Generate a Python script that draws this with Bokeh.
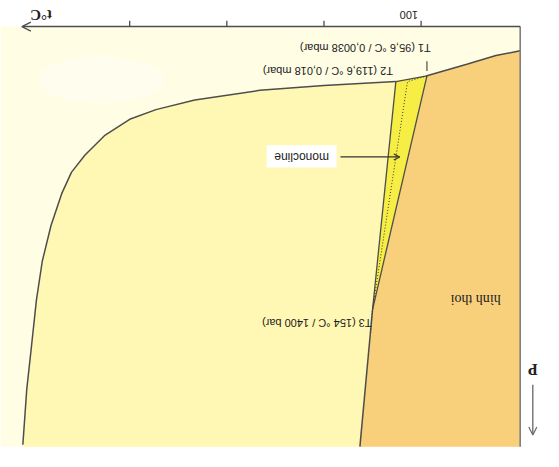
import math
from bokeh.plotting import figure
from bokeh.models import Range1d, Arrow, OpenHead
from bokeh.core.properties import value
from bokeh.embed import file_html
from bokeh.resources import INLINE

# Schematic sulfur phase diagram (drawn rotated by 180 degrees, as in the reference)
# x: temperature t (°C); y: schematic pressure units (larger = higher pressure)
T1 = (94, 51)     # T1 (95,6 °C / 0,0038 mbar)
T2 = (126, 57)    # T2 (119,6 °C / 0,018 mbar)
T3 = (150, 293)   # T3 (154 °C / 1400 bar)
M = (114, 57)     # metastable triple point

# rhombic / liquid boundary below T3
rl_t = [150, 163]
rl_p = [293, 435]
# rhombic / vapour curve (from T1)
rv_t = [94, 53, 23, -2]
rv_p = [51, 39, 30, 25]
# liquid / vapour curve (from T2)
lv_t = [126, 200, 266, 333, 373, 400, 426, 446, 460, 470, 481, 490, 496, 501, 506, 510]
lv_p = [57, 61, 66, 76, 86, 96, 113, 133, 151, 173, 206, 243, 283, 330, 376, 433]

# frame of the diagram
t_min, t_axis_end, t_left = -2, 511, 533
p_min, p_max = 0, 435

# axis ticks
tick_values = [100, 200, 300, 400]
tick_labels = {100: "100"}

labels_text = ["T1 (95,6 °C / 0,0038 mbar)", "T2 (119,6 °C / 0,018 mbar)", "T3 (154 °C / 1400 bar)"]
labels_t = [90, 129, 151]
labels_p = [22, 46, 307]

LINE = "#4d4d4d"

p = figure(width=543, height=451, x_range=Range1d(533, -26), y_range=Range1d(440, -27),
           toolbar_location=None, output_backend="svg", min_border=0,
           x_axis_location=None, y_axis_location=None,
           outline_line_color=None, background_fill_color="white", border_fill_color="white")
p.grid.visible = False

# vapour background
p.quad(left=[-2], right=[t_left], bottom=[p_max], top=[p_min], fill_color="#FFFDE4", line_color=None)
p.ellipse(x=[430], y=[55], width=[130], height=[48], fill_color="#FFFEF0", line_color=None, fill_alpha=0.8)

# liquid region
liq_t = lv_t + [rl_t[1], T3[0]]
liq_p = lv_p[:-1] + [p_max, p_max, T3[1]]
p.patch(liq_t, liq_p, fill_color="#FFF7B4", line_color=None)

# rhombic region
rh_t = rv_t + [-2, rl_t[1], T3[0]]
rh_p = rv_p + [p_max, p_max, T3[1]]
p.patch(rh_t, rh_p, fill_color="#F8CF7A", line_color=None)

# monoclinic region
p.patch([T2[0], T1[0], T3[0]], [T2[1], T1[1], T3[1]], fill_color="#F6EE45", line_color=None)

# phase boundaries
p.line(lv_t, lv_p, line_color=LINE, line_width=1.5)
p.line(rv_t, rv_p, line_color=LINE, line_width=1.5)
p.line(rl_t, rl_p, line_color=LINE, line_width=1.5)
p.line([T2[0], T1[0]], [T2[1], T1[1]], line_color=LINE, line_width=1.3)
p.line([T2[0], T3[0]], [T2[1], T3[1]], line_color=LINE, line_width=1.3)
p.line([T1[0], T3[0]], [T1[1], T3[1]], line_color=LINE, line_width=1.3)
# metastable (dotted)
p.line([T1[0], M[0], T3[0], 152], [T1[1], M[1], T3[1], 318], line_color="#333333",
       line_width=1, line_dash="1 2")

# frame right edge and top axis
p.line([-2, -2], [p_min, p_max], line_color="#777777", line_width=1.5)
p.add_layout(Arrow(end=OpenHead(size=9, line_color=LINE, line_width=1.3),
                   x_start=t_min, y_start=0, x_end=t_axis_end, y_end=0,
                   line_color=LINE, line_width=1.5))
p.segment(x0=tick_values, y0=[0] * 4, x1=tick_values, y1=[-6] * 4, line_color=LINE, line_width=1.3)
p.text(x=list(tick_labels.keys()), y=[-12], text=list(tick_labels.values()), angle=math.pi,
       x_offset=-3, text_align="left", text_baseline="middle",
       text_font=value("Liberation Sans"), text_font_size="11px", text_color="#222222")
p.text(x=[480], y=[-12], text=["t°C"], angle=math.pi, text_align="left", text_baseline="middle",
       text_font=value("Liberation Serif"), text_font_size="15px", text_font_style="bold",
       text_color="#222222")

# T1 marker tick
p.segment(x0=[T1[0]], y0=[36], x1=[T1[0]], y1=[46], line_color=LINE, line_width=1.2)

# point labels
p.text(x=labels_t, y=labels_p, text=labels_text, angle=math.pi, text_align="left",
       text_baseline="middle", text_font=value("Liberation Sans"), text_font_size="11px",
       text_color="#1a1a1a")

# phase labels
p.text(x=[18], y=[283], text=["hình thoi"], angle=math.pi, text_align="left", text_baseline="middle",
       text_font=value("Liberation Serif"), text_font_size="14px", text_color="#222222")
p.quad(left=[187], right=[259], bottom=[146], top=[123], fill_color="white", line_color=None)
p.text(x=[223], y=[135], text=["monocline"], angle=math.pi, text_align="center", text_baseline="middle",
       text_font=value("Liberation Sans"), text_font_size="12px", text_color="#222222")
p.add_layout(Arrow(end=OpenHead(size=6, line_color="#333333", line_width=1.2),
                   x_start=183, y_start=135, x_end=122, y_end=135,
                   line_color="#333333", line_width=1.3))

# pressure arrow
p.text(x=[-15], y=[355], text=["P"], angle=math.pi, text_align="center", text_baseline="middle",
       text_font=value("Liberation Serif"), text_font_size="16px", text_font_style="bold",
       text_color="#222222")
p.add_layout(Arrow(end=OpenHead(size=8, line_color="#666666", line_width=1.2),
                   x_start=-15, y_start=371, x_end=-15, y_end=423,
                   line_color="#666666", line_width=1.3))

open("out.html", "w").write(file_html(p, INLINE))
